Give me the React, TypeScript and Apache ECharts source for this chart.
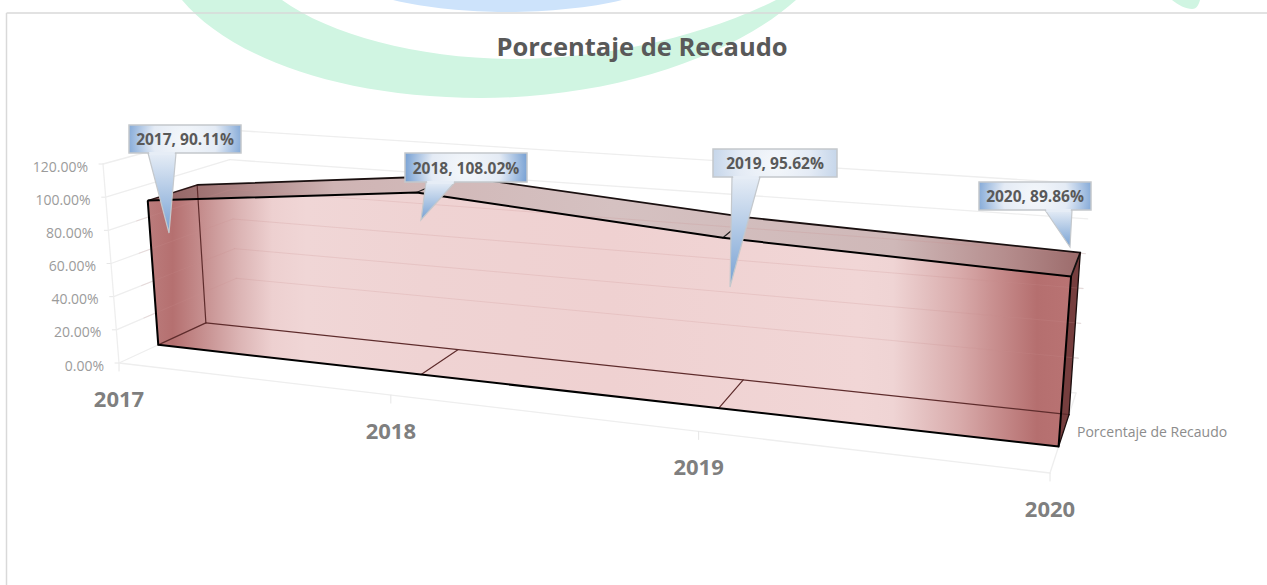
import React, { useEffect, useRef } from "react";
import * as echarts from "echarts";

const chartTitle = "Porcentaje de Recaudo";
const seriesName = "Porcentaje de Recaudo";
const years = ["2017", "2018", "2019", "2020"];
const recaudo = [90.11, 108.02, 95.62, 89.86];
const yTicks = [0, 20, 40, 60, 80, 100, 120];
const yTickLabels = ["0.00%", "20.00%", "40.00%", "60.00%", "80.00%", "100.00%", "120.00%"];

// Layout: the projected box of the 3D chart (screen corners)
const C = {
  fbl: [119, 363], ftl: [103, 164], bbl: [238, 308], btl: [228, 130],
  fbr: [1050, 473], ftr: [1068, 237], bbr: [1076, 393], btr: [1090, 184],
};
const G = { left: 20, top: 20, width: 900, height: 480 };
const PERSP = -0.0584;
const Z_FRONT = 0.33;
const Z_BACK = 0.73;

// Layout of callouts: box x0,y0,x1,y1; pointer base x0,x1; tip x,y
const callouts = [
  { box: [129, 125, 241, 153], base: [148, 176], tip: [169, 233], edge: "#7fa6d6" },
  { box: [405, 153, 527, 182], base: [426, 455], tip: [421, 220], edge: "#6f9bd1" },
  { box: [713, 149, 837, 177], base: [732, 760], tip: [730, 287], edge: "#c3d4e9" },
  { box: [979, 182, 1091, 210], base: [1045, 1072], tip: [1070, 247], edge: "#7fa6d6" },
];

const CRESCENT = "M182,0 C228,55 335,98 481,98 C615,98 735,55 796,0 L776,0 C700,38 600,59 515,59 C420,59 330,35 282,0 Z";
const BLUE = "M393,0 C425,8 470,12 505,12 C545,12 590,8 622,0 Z";
const TAB = "M1172,0 C1178,5 1186,9 1192,9 C1197,9 1199,4 1200,0 Z";
echarts.graphic.registerShape("crescent", echarts.graphic.extendPath(CRESCENT as any, {}));
echarts.graphic.registerShape("bluecap", echarts.graphic.extendPath(BLUE as any, {}));
echarts.graphic.registerShape("greentab", echarts.graphic.extendPath(TAB as any, {}));

const lerp = (a: number[], b: number[], t: number) => [a[0] + (b[0] - a[0]) * t, a[1] + (b[1] - a[1]) * t];

function projector(api: any) {
  return (xi: number, pct: number, d: number) => {
    const p = api.coord([xi, pct]);
    const x = ((p[0] - G.left) / G.width) * 3;
    const v = (G.top + G.height - p[1]) / G.height;
    const t = (x * (1 + 3 * PERSP)) / (3 * (1 + PERSP * x));
    const bottom = lerp(lerp(C.fbl, C.fbr, t), lerp(C.bbl, C.bbr, t), d);
    const top = lerp(lerp(C.ftl, C.ftr, t), lerp(C.btl, C.btr, t), d);
    return lerp(bottom, top, v);
  };
}

const line = (a: number[], b: number[], stroke: string, lineWidth: number) => ({
  type: "line",
  silent: true,
  shape: { x1: a[0], y1: a[1], x2: b[0], y2: b[1] },
  style: { stroke, lineWidth, lineCap: "round" },
});
const poly = (points: number[][], fill: any) => ({
  type: "polygon",
  silent: true,
  shape: { points },
  style: { fill, stroke: "none" },
});
const pline = (points: number[][], stroke: string, lineWidth: number) => ({
  type: "polyline",
  silent: true,
  shape: { points },
  style: { stroke, lineWidth, fill: "none", lineJoin: "round" },
});

const lg = (stops: [number, string][]) =>
  new echarts.graphic.LinearGradient(0, 0, 1, 0, stops.map(([offset, color]) => ({ offset, color })));

const FRONT_STOPS: [number, string][] = [
  [0, "#bb7c7c"], [0.027, "#b57070"], [0.064, "#c89393"], [0.1, "#dcb5b5"], [0.135, "#edd0d0"], [0.172, "#f0d6d6"],
  [0.3, "#efd3d3"], [0.5, "#efd1d1"], [0.77, "#f1d6d6"], [0.807, "#efd4d4"], [0.844, "#e3bfbf"], [0.88, "#d8aaaa"],
  [0.915, "#c99090"], [0.963, "#b56f6f"], [1, "#b97373"],
];
const TOP_STOPS: [number, string][] = [
  [0, "#8c5c5c"], [0.06, "#a07474"], [0.2, "#cfb4b4"], [0.5, "#d5c1c1"], [0.8, "#cfb8b8"], [0.92, "#b58d8d"], [1, "#9c6b6b"],
];

export default function App() {
  const ref = useRef<HTMLDivElement>(null);
  useEffect(() => {
    document.body.style.margin = "0";
    const chart = echarts.init(ref.current!, undefined, { renderer: "svg" });
    const last = years.length - 1;

    const option: any = {
      animation: false,
      backgroundColor: "transparent",
      title: {
        text: chartTitle,
        left: 637,
        top: 28,
        textAlign: "center",
        textStyle: { fontFamily: "Open Sans", fontWeight: "bold", fontSize: 25.5, color: "#595959" },
      },
      grid: { ...G },
      xAxis: { type: "value", min: 0, max: last, show: false },
      yAxis: { type: "value", min: 0, max: 120, interval: 20, show: false },
      graphic: [
        { type: "crescent", x: 0, y: 0, z: -1, silent: true, style: { fill: "#d0f5e2" } },
        { type: "bluecap", x: 0, y: 0, z: -1, silent: true, style: { fill: "#cde3fb" } },
        { type: "greentab", x: 0, y: 0, z: -1, silent: true, style: { fill: "#d0f5e2" } },
        { type: "line", z: -1, silent: true, shape: { x1: 6.5, y1: 13, x2: 1267, y2: 13 }, style: { stroke: "#d9d9d9", lineWidth: 1.5 } },
        { type: "line", z: -1, silent: true, shape: { x1: 6.5, y1: 13, x2: 6.5, y2: 585 }, style: { stroke: "#d9d9d9", lineWidth: 1.5 } },
      ],
      series: [
        {
          // Wall grid lines, y-tick marks and y labels
          type: "custom",
          coordinateSystem: "cartesian2d",
          silent: true,
          z: 1,
          data: yTicks.map((v, i) => [i, v]),
          renderItem: (_p: any, api: any) => {
            const P = projector(api);
            const i = api.value(0);
            const pct = yTicks[i];
            const f = P(0, pct, 0);
            return {
              type: "group",
              children: [
                line(P(0, pct, 0), P(0, pct, 1), "#eeeeee", 1.3),
                line(P(0, pct, 1), P(last, pct, 1), "#eeeeee", 1.3),
                line([f[0] - 4, f[1]], f, "#e6e6e6", 1),
                {
                  type: "text",
                  silent: true,
                  style: {
                    text: yTickLabels[i],
                    x: f[0] - 15,
                    y: f[1] + 2,
                    align: "right",
                    verticalAlign: "middle",
                    fontFamily: "Open Sans",
                    fontSize: 14,
                    fill: "#9b9b9b",
                  },
                },
              ],
            };
          },
        },
        {
          // Floor edges, x ticks, x labels
          type: "custom",
          coordinateSystem: "cartesian2d",
          silent: true,
          z: 1,
          data: years.map((_y, i) => [i, 0]),
          renderItem: (_p: any, api: any) => {
            const P = projector(api);
            const i = api.value(0);
            const f = P(i, 0, 0);
            const children: any[] = [
              line(f, [f[0], f[1] + 8], "#e6e6e6", 1),
              {
                type: "text",
                silent: true,
                style: {
                  text: years[i],
                  x: f[0],
                  y: f[1] + 35,
                  align: "center",
                  verticalAlign: "middle",
                  fontFamily: "Open Sans",
                  fontWeight: "bold",
                  fontSize: 22,
                  fill: "#7f7f7f",
                },
              },
            ];
            if (i === 0) {
              children.push(line(P(0, 0, 0), P(0, 120, 0), "#eeeeee", 1.3));
              children.push(line(P(0, 0, 0), P(last, 0, 0), "#eeeeee", 1.3));
            }
            if (i === last) {
              children.push(line(P(last, 0, 0), P(last, 0, 1), "#eeeeee", 1.3));
              const mid = P(last, 0, 0.5);
              children.push({
                type: "text",
                silent: true,
                style: {
                  text: seriesName,
                  x: mid[0] + 14,
                  y: mid[1] - 2,
                  align: "left",
                  verticalAlign: "middle",
                  fontFamily: "Open Sans",
                  fontSize: 14,
                  fill: "#8c8c8c",
                },
              });
            }
            return { type: "group", children };
          },
        },
        {
          // The 3D area body
          type: "custom",
          coordinateSystem: "cartesian2d",
          silent: true,
          z: 2,
          data: recaudo.map((v, i) => [i, v]),
          renderItem: (p: any, api: any) => {
            if (p.dataIndex !== 0) return null;
            const P = projector(api);
            const idx = years.map((_, i) => i);
            const frontTop = idx.map((i) => P(i, recaudo[i], Z_FRONT));
            const backTop = idx.map((i) => P(i, recaudo[i], Z_BACK));
            const fb0 = P(0, 0, Z_FRONT);
            const fb3 = P(last, 0, Z_FRONT);
            const bb0 = P(0, 0, Z_BACK);
            const bb3 = P(last, 0, Z_BACK);
            const inner = "#5e2c2c";
            const children: any[] = [
              poly([...frontTop, ...[...backTop].reverse()], lg(TOP_STOPS)),
              poly([frontTop[last], backTop[last], bb3, fb3], "#763e3e"),
              poly([...frontTop, fb3, fb0], lg(FRONT_STOPS)),
            ];
            // wall grid lines seen faintly through the series
            yTicks.forEach((t) => {
              if (t === 0 || t > 80) return;
              const vis = "rgba(200,140,140,0.22)";
              children.push(line(P(0, t, Z_FRONT - 0.1), P(0, t, 1), vis, 1));
              children.push(line(P(0, t, 1), P(last, t, 1), vis, 1));
            });
            children.push(
              line(bb0, bb3, inner, 1.2),
              line(fb0, bb0, inner, 1.2),
              line(backTop[0], bb0, inner, 1.2),
              line(P(1, 0, Z_FRONT), P(1, 0, Z_BACK), inner, 1.2),
              line(P(2, 0, Z_FRONT), P(2, 0, Z_BACK), inner, 1.2),
              line(frontTop[1], backTop[1], "#222222", 1.2),
              line(frontTop[2], backTop[2], "#222222", 1.2),
              pline(backTop, "#1a1010", 1.8),
              line(frontTop[0], backTop[0], "#2a1515", 1.5),
              line(frontTop[last], backTop[last], "#111111", 1.8),
              line(backTop[last], bb3, "#1a0d0d", 1.3),
              line(fb3, bb3, "#1a0d0d", 1.3),
              pline([...frontTop, fb3, fb0, frontTop[0]], "#000000", 2)
            );
            return { type: "group", children };
          },
        },
        {
          // Data callouts
          type: "custom",
          coordinateSystem: "cartesian2d",
          silent: true,
          z: 3,
          data: recaudo.map((v, i) => [i, v]),
          renderItem: (_p: any, api: any) => {
            const i = api.value(0);
            const c = callouts[i];
            const [x0, y0, x1, y1] = c.box;
            const cx = (x0 + x1) / 2;
            const cy = (y0 + y1) / 2;
            const pointerFill = new echarts.graphic.LinearGradient(0, 0, 0, 1, [
              { offset: 0, color: "#e6edf6" },
              { offset: 1, color: "#77a1d3" },
            ]);
            const boxFill = new echarts.graphic.RadialGradient(
              cx,
              cy,
              (x1 - x0) / 2 + 3,
              [
                { offset: 0, color: "#f5f8fb" },
                { offset: 0.55, color: "#e4ebf5" },
                { offset: 1, color: c.edge },
              ],
              true
            );
            return {
              type: "group",
              children: [
                {
                  type: "polygon",
                  silent: true,
                  shape: { points: [[c.base[0], y1], c.tip, [c.base[1], y1]] },
                  style: { fill: pointerFill, stroke: "#c4c8cc", lineWidth: 1.2 },
                },
                {
                  type: "rect",
                  silent: true,
                  shape: { x: x0, y: y0, width: x1 - x0, height: y1 - y0 },
                  style: { fill: boxFill, stroke: "#c4c8cc", lineWidth: 1.5 },
                },
                {
                  type: "polygon",
                  silent: true,
                  shape: { points: [[c.base[0] + 1, y1 - 1], [c.base[1] - 1, y1 - 1], [c.base[1] - 1.5, y1 + 2], [c.base[0] + 1.5, y1 + 2]] },
                  style: { fill: "#e6edf6", stroke: "none" },
                },
                {
                  type: "text",
                  silent: true,
                  style: {
                    text: `${years[i]}, ${recaudo[i].toFixed(2)}%`,
                    x: cx,
                    y: cy,
                    align: "center",
                    verticalAlign: "middle",
                    fontFamily: "Open Sans",
                    fontWeight: "bold",
                    fontSize: 15.5,
                    fill: "#595959",
                  },
                },
              ],
            };
          },
        },
      ],
    };
    chart.setOption(option);
    return () => chart.dispose();
  }, []);
  return <div ref={ref} style={{ width: 1267, height: 585 }} />;
}
